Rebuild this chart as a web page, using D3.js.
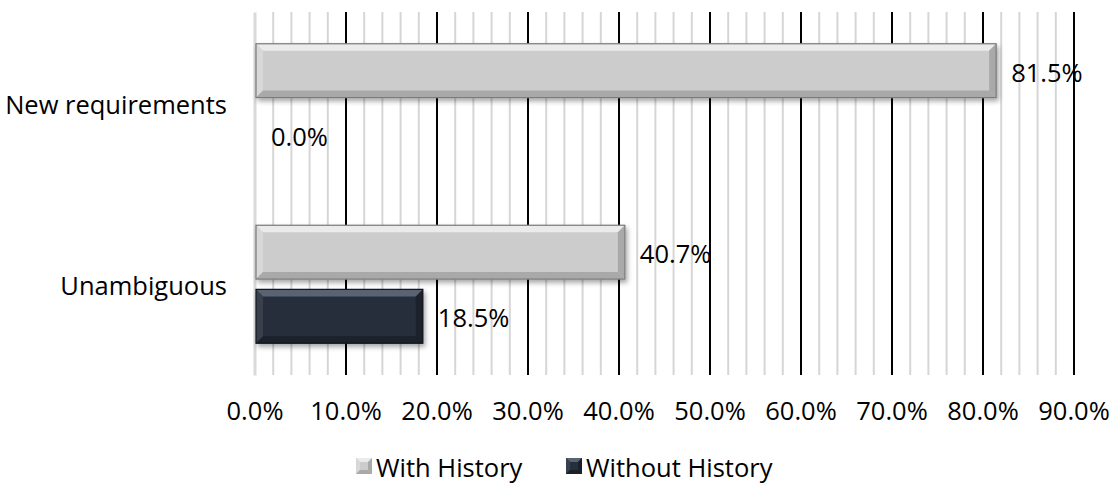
<!DOCTYPE html>
<html>
<head>
<meta charset="utf-8">
<script src="https://cdn.jsdelivr.net/npm/d3@7"></script>
<style>
  html, body { margin: 0; padding: 0; background: #ffffff; }
  svg { display: block; font-family: "Open Sans", "Liberation Sans", sans-serif; }
</style>
</head>
<body>
<svg id="chart" width="1118" height="497"></svg>
<script>
// ---- data ----
const categories = ["New requirements", "Unambiguous"];
const seriesNames = ["With History", "Without History"];
const withHistory = [81.5, 40.7];
const withoutHistory = [0.0, 18.5];
const majorTicks = [0, 10, 20, 30, 40, 50, 60, 70, 80, 90];
const tickLabels = ["0.0%", "10.0%", "20.0%", "30.0%", "40.0%", "50.0%", "60.0%", "70.0%", "80.0%", "90.0%"];

const seriesValues = [withHistory, withoutHistory];
const palette = {
  "With History": { fill: "#cccccc", light: "#ebebeb", mid: "#d8d8d8", dark: "#a9a9a9", edge: "#7a7a7a" },
  "Without History": { fill: "#262f3b", light: "#5a6471", mid: "#37414e", dark: "#1a212a", edge: "#11161c" }
};
const FS = 25.5;

const svg = d3.select("#chart");
const plot = { left: 254.5, right: 1073.5, top: 12, bottom: 375 };

const x = d3.scaleLinear().domain([0, 90]).range([plot.left, plot.right]);
const y0 = d3.scaleBand().domain(categories).range([plot.top, plot.bottom])
  .paddingInner(0.35).paddingOuter(0.175);
const y1 = d3.scaleBand().domain(seriesNames).range([0, y0.bandwidth()]).paddingInner(0.16);

// defs: drop shadow
const defs = svg.append("defs");
const f = defs.append("filter").attr("id", "shadow").attr("x", "-5%").attr("y", "-20%").attr("width", "115%").attr("height", "150%");
f.append("feDropShadow").attr("dx", 2).attr("dy", 3).attr("stdDeviation", 2.5).attr("flood-color", "#000").attr("flood-opacity", 0.35);

// minor gridlines
const minorTicks = d3.range(2, 90, 2).filter(v => v % 10 !== 0);
svg.append("g")
  .attr("transform", `translate(0,${plot.bottom})`)
  .call(d3.axisBottom(x).tickValues(minorTicks).tickSize(-(plot.bottom - plot.top)).tickFormat(""))
  .call(g => g.select(".domain").remove())
  .call(g => g.selectAll(".tick line").attr("stroke", "#d6d6d6").attr("stroke-width", 2));

// major gridlines
svg.append("g")
  .attr("transform", `translate(0,${plot.bottom})`)
  .call(d3.axisBottom(x).tickValues(majorTicks.slice(1)).tickSize(-(plot.bottom - plot.top)).tickFormat(""))
  .call(g => g.select(".domain").remove())
  .call(g => g.selectAll(".tick line").attr("stroke", "#000").attr("stroke-width", 2));

// vertical axis line
svg.append("g")
  .attr("transform", `translate(${plot.left},0)`)
  .call(d3.axisLeft(y0).tickSize(0).tickFormat(""))
  .call(g => g.select(".domain").attr("stroke", "#d9d9d9").attr("stroke-width", 3));

// tick labels
svg.append("g")
  .attr("transform", `translate(0,${plot.bottom})`)
  .call(d3.axisBottom(x).tickValues(majorTicks).tickSize(0).tickPadding(27).tickFormat((d, i) => tickLabels[i]))
  .call(g => g.select(".domain").remove())
  .call(g => g.selectAll("text").attr("font-size", FS).attr("fill", "#000").attr("font-family", "Open Sans"));

// category labels
svg.append("g").selectAll("text").data(categories).join("text")
  .attr("x", 227).attr("y", d => y0(d) + y0.bandwidth() / 2 + 1)
  .attr("text-anchor", "end").attr("dominant-baseline", "central")
  .attr("font-size", FS).attr("fill", "#000").text(d => d);

// bevelled bar drawing
function bevelBar(g, x0, yTop, w, h, c, b) {
  if (w <= 0) return;
  const bb = Math.min(b, w / 2, h / 2);
  const x1 = x0 + w, y1b = yTop + h;
  const grp = g.append("g").attr("filter", "url(#shadow)");
  grp.append("rect").attr("x", x0).attr("y", yTop).attr("width", w).attr("height", h).attr("fill", c.fill);
  grp.append("polygon").attr("points", [[x0, yTop], [x1, yTop], [x1 - bb, yTop + bb], [x0 + bb, yTop + bb]].join(" ")).attr("fill", c.light);
  grp.append("polygon").attr("points", [[x0, yTop], [x0 + bb, yTop + bb], [x0 + bb, y1b - bb], [x0, y1b]].join(" ")).attr("fill", c.mid);
  grp.append("polygon").attr("points", [[x0, y1b], [x0 + bb, y1b - bb], [x1 - bb, y1b - bb], [x1, y1b]].join(" ")).attr("fill", c.dark);
  grp.append("polygon").attr("points", [[x1, yTop], [x1, y1b], [x1 - bb, y1b - bb], [x1 - bb, yTop + bb]].join(" ")).attr("fill", c.dark);
  grp.append("rect").attr("x", x0).attr("y", yTop).attr("width", w).attr("height", h)
    .attr("fill", "none").attr("stroke", c.edge).attr("stroke-width", 1.2);
}

const bars = svg.append("g");
const labels = svg.append("g");
categories.forEach((cat, ci) => {
  seriesNames.forEach((s, si) => {
    const v = seriesValues[si][ci];
    const yTop = y0(cat) + y1(s);
    const h = y1.bandwidth();
    const x0 = x(0) + 1.5;
    bevelBar(bars, x0, yTop, x(v) - x0, h, palette[s], 7);
    labels.append("text")
      .attr("x", Math.max(x(v), x0) + 15)
      .attr("y", yTop + h / 2 + 1)
      .attr("dominant-baseline", "central")
      .attr("font-size", FS).attr("fill", "#000")
      .text(v.toFixed(1) + "%");
  });
});

// legend
const legendPos = [356, 566];
const legend = svg.append("g");
seriesNames.forEach((s, i) => {
  const g = legend.append("g").attr("transform", `translate(${legendPos[i]},458)`);
  const c = palette[s];
  const sz = 16, b = 4;
  g.append("rect").attr("width", sz).attr("height", sz).attr("fill", c.fill);
  g.append("polygon").attr("points", [[0, 0], [sz, 0], [sz - b, b], [b, b]].join(" ")).attr("fill", c.light);
  g.append("polygon").attr("points", [[0, 0], [b, b], [b, sz - b], [0, sz]].join(" ")).attr("fill", c.mid);
  g.append("polygon").attr("points", [[0, sz], [b, sz - b], [sz - b, sz - b], [sz, sz]].join(" ")).attr("fill", c.dark);
  g.append("polygon").attr("points", [[sz, 0], [sz, sz], [sz - b, sz - b], [sz - b, b]].join(" ")).attr("fill", c.dark);
  g.append("text").attr("x", sz + 4).attr("y", sz / 2 + 1)
    .attr("dominant-baseline", "central").attr("font-size", FS).attr("fill", "#000").text(s);
});
</script>
</body>
</html>
